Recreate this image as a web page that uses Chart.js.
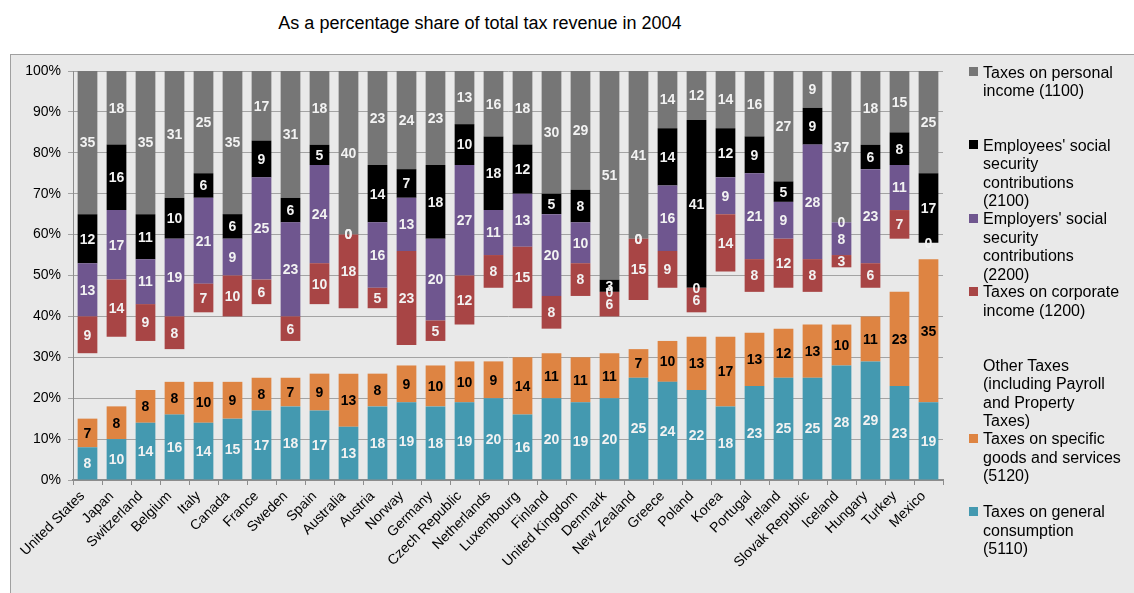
<!DOCTYPE html>
<html>
    <!-- Styling -->
    <style>
        body {
            margin: 0;
            padding: 0;
            background-color: white;
            font-family: 'Liberation Sans', Arial, sans-serif;
            overflow: hidden;
        }
        .frame {
            position: absolute;
            left: 10px;
            top: 54px;
            width: 1130px;
            height: 545px;
            background-color: rgb(233, 233, 233);
            border: 1px solid rgb(160, 160, 160);
        }
        .title {
            position: absolute;
            left: 0;
            width: 960px;
            top: 14px;
            text-align: center;
            font-size: 18px;
            line-height: 18px;
            color: black;
        }
        #chartCanvas {
            position: absolute;
            left: 0;
            top: 0;
        }
        .legend_item {
            position: absolute;
            left: 983px;
            font-size: 16px;
            line-height: 18.5px;
            color: black;
            white-space: nowrap;
        }
        .legend_item .swatch {
            position: absolute;
            left: -14px;
            top: 3.5px;
            width: 9px;
            height: 9px;
        }
    </style>

    <script src="https://cdn.jsdelivr.net/npm/chart.js"></script>
    <body>
        <div class="frame"></div>
        <div class="title">As a percentage share of total tax revenue in 2004</div>
        <canvas id="chartCanvas" width="1134" height="593"></canvas>
        <div id="legend"></div>
    </body>
    <script>
        const countries = ['United States', 'Japan', 'Switzerland', 'Belgium', 'Italy', 'Canada', 'France',
            'Sweden', 'Spain', 'Australia', 'Austria', 'Norway', 'Germany', 'Czech Republic', 'Netherlands',
            'Luxembourg', 'Finland', 'United Kingdom', 'Denmark', 'New Zealand', 'Greece', 'Poland', 'Korea',
            'Portugal', 'Ireland', 'Slovak Republic', 'Iceland', 'Hungary', 'Turkey', 'Mexico'];

        // shares of total tax revenue, %
        const generalConsumption = [8, 10, 14, 16, 14, 15, 17, 18, 17, 13, 18, 19, 18, 19, 20, 16, 20, 19, 20, 25, 24, 22, 18, 23, 25, 25, 28, 29, 23, 19];
        const specificGoods = [7, 8, 8, 8, 10, 9, 8, 7, 9, 13, 8, 9, 10, 10, 9, 14, 11, 11, 11, 7, 10, 13, 17, 13, 12, 13, 10, 11, 23, 35];
        const otherTaxes = [16, 17, 12, 8, 17, 16, 18, 9, 17, 16, 16, 5, 6, 9, 18, 12, 6, 15, 9, 12, 13, 6, 16, 10, 10, 8, 14, 7, 13, 4];
        const corporateIncome = [9, 14, 9, 8, 7, 10, 6, 6, 10, 18, 5, 23, 5, 12, 8, 15, 8, 8, 6, 15, 9, 6, 14, 8, 12, 8, 3, 6, 7, null];
        const employersSSC = [13, 17, 11, 19, 21, 9, 25, 23, 24, 0, 16, 13, 20, 27, 11, 13, 20, 10, 0, 0, 16, 0, 9, 21, 9, 28, 8, 23, 11, 0];
        const employeesSSC = [12, 16, 11, 10, 6, 6, 9, 6, 5, 0, 14, 7, 18, 10, 18, 12, 5, 8, 3, 0, 14, 41, 12, 9, 5, 9, 0, 6, 8, 17];
        const personalIncome = [35, 18, 35, 31, 25, 35, 17, 31, 18, 40, 23, 24, 23, 13, 16, 18, 30, 29, 51, 41, 14, 12, 14, 16, 27, 9, 37, 18, 15, 25];

        const yTicks = [0, 10, 20, 30, 40, 50, 60, 70, 80, 90, 100];

        // legend entries, top to bottom
        const legendEntries = [
            { color: 'rgb(118, 118, 118)', text: 'Taxes on personal<br>income (1100)' },
            { color: 'rgb(0, 0, 0)', text: 'Employees\' social<br>security<br>contributions<br>(2100)' },
            { color: 'rgb(111, 86, 143)', text: 'Employers\' social<br>security<br>contributions<br>(2200)' },
            { color: 'rgb(168, 69, 69)', text: 'Taxes on corporate<br>income (1200)' },
            { color: null, text: 'Other Taxes<br>(including Payroll<br>and Property<br>Taxes)' },
            { color: 'rgb(222, 132, 66)', text: 'Taxes on specific<br>goods and services<br>(5120)' },
            { color: 'rgb(68, 153, 176)', text: 'Taxes on general<br>consumption<br>(5110)' }
        ];

        const legendDiv = document.getElementById('legend');
        legendEntries.forEach(function (entry, i) {
            const item = document.createElement('div');
            item.className = 'legend_item';
            item.style.top = (63.5 + i * 73.3) + 'px';
            let html = entry.text;
            if (entry.color) {
                html = '<span class="swatch" style="background:' + entry.color + '"></span>' + html;
            }
            item.innerHTML = html;
            legendDiv.appendChild(item);
        });

        // draws the value in the middle of each bar segment
        const barLabels = {
            id: 'barLabels',
            afterDatasetsDraw(chart) {
                const ctx = chart.ctx;
                ctx.save();
                ctx.font = 'bold 14px "Liberation Sans", Arial, sans-serif';
                ctx.textAlign = 'center';
                ctx.textBaseline = 'middle';
                chart.data.datasets.forEach(function (ds, i) {
                    if (!ds.labelColor) return;
                    const meta = chart.getDatasetMeta(i);
                    meta.data.forEach(function (bar, j) {
                        const v = ds.data[j];
                        if (v === null) return;
                        ctx.fillStyle = ds.labelColor;
                        ctx.fillText(String(v), bar.x, (bar.y + bar.base) / 2 + 1);
                    });
                });
                ctx.restore();
            }
        };

        const data = {
            labels: countries,
            datasets: [
                { label: 'Taxes on general consumption (5110)', data: generalConsumption,
                  backgroundColor: 'rgb(68, 153, 176)', labelColor: 'rgb(242, 242, 242)' },
                { label: 'Taxes on specific goods and services (5120)', data: specificGoods,
                  backgroundColor: 'rgb(222, 132, 66)', labelColor: 'black' },
                { label: 'Other Taxes (including Payroll and Property Taxes)', data: otherTaxes,
                  backgroundColor: 'rgba(0, 0, 0, 0)' },
                { label: 'Taxes on corporate income (1200)', data: corporateIncome,
                  backgroundColor: 'rgb(168, 69, 69)', labelColor: 'rgb(242, 242, 242)' },
                { label: 'Employers\' social security contributions (2200)', data: employersSSC,
                  backgroundColor: 'rgb(111, 86, 143)', labelColor: 'rgb(242, 242, 242)' },
                { label: 'Employees\' social security contributions (2100)', data: employeesSSC,
                  backgroundColor: 'rgb(0, 0, 0)', labelColor: 'rgb(242, 242, 242)' },
                { label: 'Taxes on personal income (1100)', data: personalIncome,
                  backgroundColor: 'rgb(118, 118, 118)', labelColor: 'rgb(242, 242, 242)' }
            ]
        };

        const config = {
            type: 'bar',
            data: data,
            options: {
                responsive: false,
                animation: false,
                barPercentage: 0.68,
                categoryPercentage: 1,
                layout: {
                    padding: { left: 0, right: 191, top: 71, bottom: 0 }
                },
                plugins: {
                    legend: { display: false },
                    tooltip: { enabled: false }
                },
                scales: {
                    x: {
                        stacked: true,
                        grid: {
                            drawOnChartArea: false,
                            tickLength: 5,
                            color: 'rgb(140, 140, 140)'
                        },
                        border: { color: 'rgb(140, 140, 140)', width: 2 },
                        ticks: {
                            minRotation: 45,
                            maxRotation: 45,
                            autoSkip: false,
                            padding: 3,
                            labelOffset: -5,
                            color: 'black',
                            font: { family: '"Liberation Sans", Arial, sans-serif', size: 14 }
                        },
                        afterFit: function (scale) { scale.height = 113; }
                    },
                    y: {
                        stacked: true,
                        min: 0,
                        max: 100,
                        afterBuildTicks: function (scale) {
                            scale.ticks = yTicks.map(function (v) { return { value: v }; });
                        },
                        grid: {
                            color: 'rgb(163, 163, 163)',
                            tickLength: 5
                        },
                        border: { color: 'rgb(140, 140, 140)', width: 1 },
                        ticks: {
                            padding: 7,
                            color: 'black',
                            font: { family: '"Liberation Sans", Arial, sans-serif', size: 14 },
                            callback: function (v) { return v + '%'; }
                        },
                        afterFit: function (scale) { scale.width = 73; }
                    }
                }
            },
            plugins: [barLabels]
        };

        const taxChart = new Chart(document.getElementById('chartCanvas'), config);
    </script>
</html>
